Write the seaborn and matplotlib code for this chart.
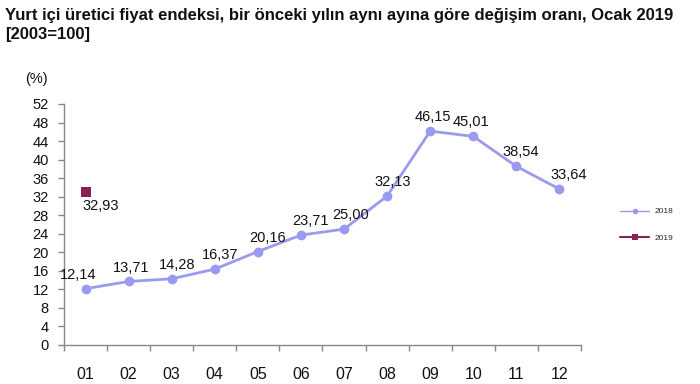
import matplotlib
matplotlib.use("Agg")
import matplotlib.pyplot as plt
import seaborn as sns
import pandas as pd
import numpy as np
from matplotlib.lines import Line2D

months = ["01", "02", "03", "04", "05", "06", "07", "08", "09", "10", "11", "12"]
values_2018 = [12.14, 13.71, 14.28, 16.37, 20.16, 23.71, 25.00, 32.13, 46.15, 45.01, 38.54, 33.64]
months_2019 = ["01"]
values_2019 = [32.93]
yticks = list(range(0, 53, 4))

title = "Yurt içi üretici fiyat endeksi, bir önceki yılın aynı ayına göre değişim oranı, Ocak 2019\n[2003=100]"

sns.set_theme(style="white")
plt.rcParams["font.family"] = ["Liberation Sans", "DejaVu Sans"]

c2018 = "#9a9af0"
c2019 = "#8b2252"

df18 = pd.DataFrame({"x": [months.index(m) for m in months], "v": values_2018})
df19 = pd.DataFrame({"x": [months.index(m) for m in months_2019], "v": values_2019})

fig = plt.figure(figsize=(7, 3.84), dpi=100)
ax = fig.add_axes([0.0914, 0.1016, 0.7386, 0.6276])

sns.lineplot(data=df18, x="x", y="v", ax=ax, color=c2018, linewidth=2,
             marker="o", markersize=7, markeredgewidth=0, markerfacecolor=c2018)
sns.scatterplot(data=df19, x="x", y="v", ax=ax, color=c2019, marker="s", s=45,
                linewidth=0, zorder=5)

def fmt(v):
    return f"{v:.2f}".replace(".", ",")

dx = [-5, 2, 4, 4, 7, 7, 5, 4, 2, -2, 3, 7]
for i, v in enumerate(values_2018):
    ax.annotate(fmt(v), (df18.x[i], v), textcoords="offset points",
                xytext=(dx[i], 5), ha="center", va="bottom", fontsize=10.5, color="#111111")
for i, v in enumerate(values_2019):
    ax.annotate(fmt(v), (df19.x[i], v), textcoords="offset points",
                xytext=(-2, -5), ha="left", va="top", fontsize=10.5, color="#111111")

ax.set_xlim(-0.5, len(months) - 0.5)
ax.set_ylim(0, 52)
ax.set_yticks(yticks)
ax.set_yticklabels([str(t) for t in yticks], fontsize=10.5, color="#111111")
ax.set_xticks(range(len(months)))
ax.set_xticklabels(months, fontsize=11.5, color="#111111")
ax.set_xticks(np.arange(-0.5, len(months), 1), minor=True)
ax.tick_params(axis="x", which="major", length=0, pad=16)
ax.tick_params(axis="x", which="minor", length=4, width=1, color="#888888", direction="out", bottom=True)
ax.tick_params(axis="y", which="major", length=4, width=1, color="#888888", direction="out", left=True, pad=7)
ax.set_xlabel("")
ax.set_ylabel("")
for s in ["top", "right"]:
    ax.spines[s].set_visible(False)
for s in ["left", "bottom"]:
    ax.spines[s].set_color("#888888")
    ax.spines[s].set_linewidth(1)

fig.text(0.007, 0.978, title, ha="left", va="top", fontsize=12, fontweight="bold", color="#111111",
         linespacing=1.3)
fig.text(0.036, 0.795, "(%)", ha="left", va="center", fontsize=10.5, color="#111111")

handles = [Line2D([], [], color=c2018, marker="o", markersize=4, markeredgewidth=0, linewidth=1),
           Line2D([], [], color=c2019, marker="s", markersize=4, markeredgewidth=0, linewidth=1.5)]
fig.legend(handles, ["2018", "2019"], loc="center left", bbox_to_anchor=(0.875, 0.415),
           frameon=False, fontsize=6, handlelength=3.5, labelspacing=2.2, handletextpad=0.6)

fig.savefig("out.png", dpi=100)
